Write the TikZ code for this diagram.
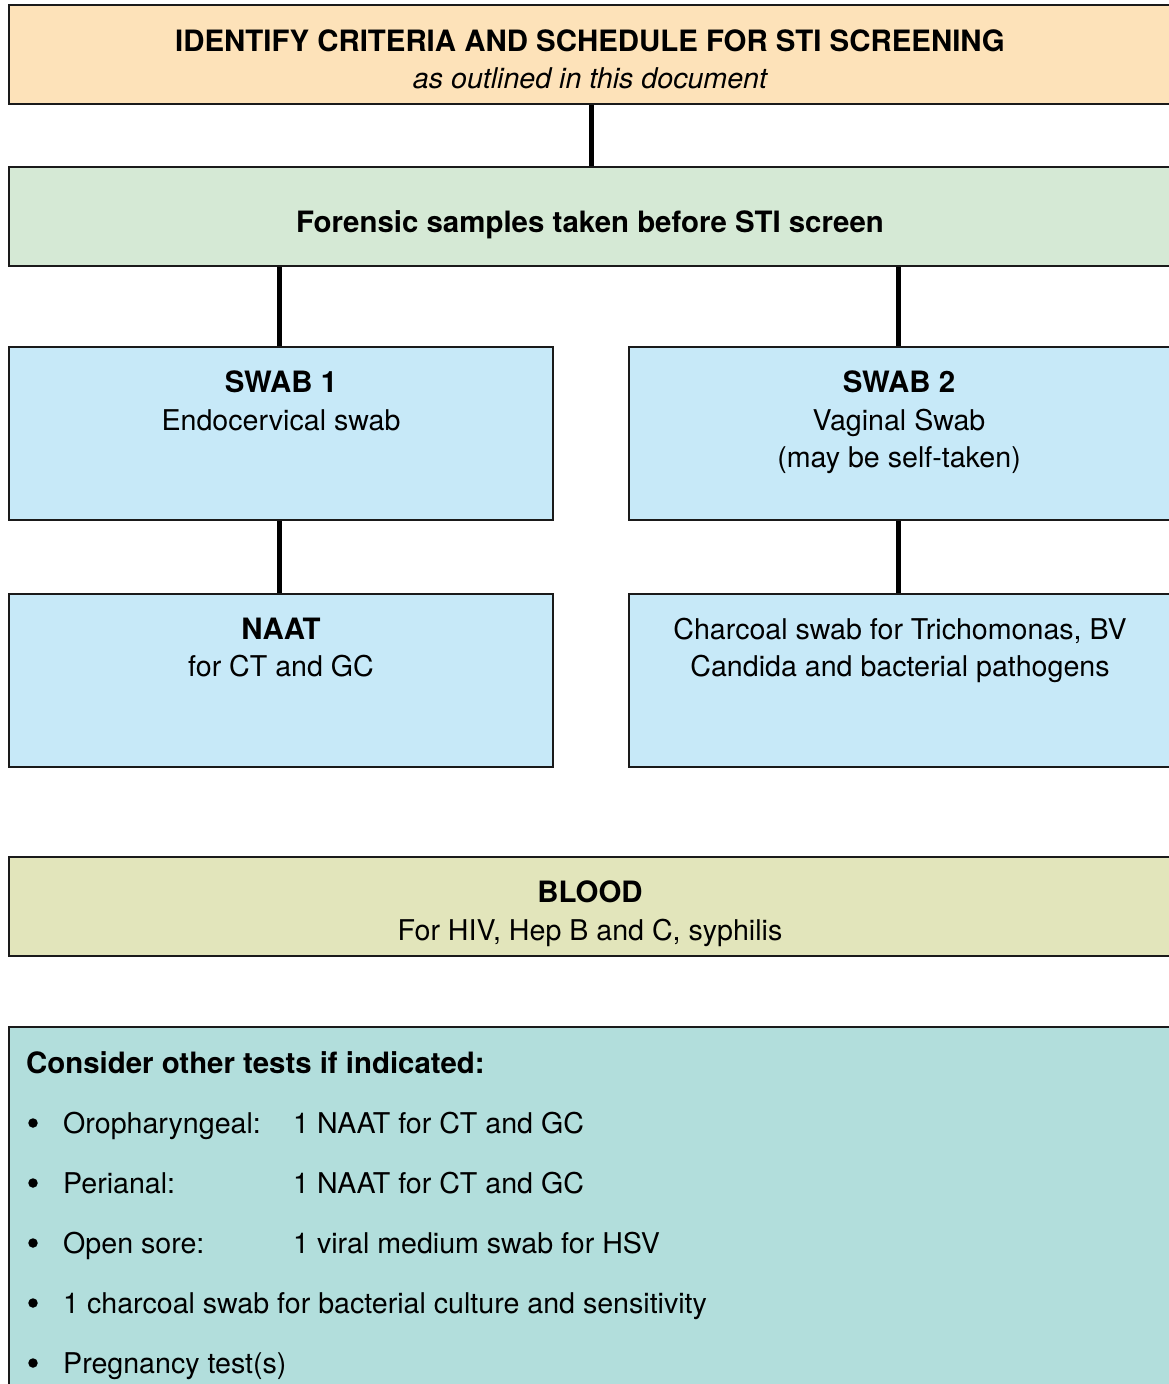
\documentclass[tikz,border=0pt]{standalone}
\usepackage{fontspec}
\setmainfont{TeX Gyre Heros}
\definecolor{critfill}{HTML}{FDE2B9}
\definecolor{forenfill}{HTML}{D5E9D5}
\definecolor{swabfill}{HTML}{C7E9F8}
\definecolor{bloodfill}{HTML}{E2E5BB}
\definecolor{otherfill}{HTML}{B2DEDC}
\definecolor{edge}{HTML}{1A1A1A}
\begin{document}
\begin{tikzpicture}[x=1pt,y=-1pt,
  box/.style={draw=edge,line width=2.6pt,rectangle,inner sep=0pt},
  conn/.style={draw=black,line width=5pt},
  txt/.style={inner sep=0pt,anchor=base,font=\fontsize{28.6}{34}\selectfont},
  btxt/.style={inner sep=0pt,anchor=base,font=\fontsize{29.4}{34}\selectfont\bfseries},
  ltxt/.style={txt,anchor=base west},
  lbtxt/.style={btxt,anchor=base west},
  dot/.style={circle,fill=black,inner sep=0pt,minimum size=9.5pt}]
\useasboundingbox (0,0) rectangle (1169,1384);
\clip (0,0) rectangle (1169,1384);
\fill[white] (0,0) rectangle (1169,1384);

% boxes
\node[box,fill=critfill,minimum width=1166pt,minimum height=99pt] (crit) at (592,54.5) {};
\node[box,fill=forenfill,minimum width=1166pt,minimum height=99pt] (foren) at (592,216.5) {};
\node[box,fill=swabfill,minimum width=544pt,minimum height=173pt] (swab1) at (281,433.5) {};
\node[box,fill=swabfill,minimum width=546pt,minimum height=173pt] (swab2) at (902,433.5) {};
\node[box,fill=swabfill,minimum width=544pt,minimum height=173pt] (naat) at (281,680.5) {};
\node[box,fill=swabfill,minimum width=546pt,minimum height=173pt] (charc) at (902,680.5) {};
\node[box,fill=bloodfill,minimum width=1166pt,minimum height=99pt] (blood) at (592,906.5) {};
\node[box,fill=otherfill,minimum width=1166pt,minimum height=393pt] (other) at (592,1223.5) {};

% connectors
\draw[conn] ([xshift=-1pt]crit.south) -- ([xshift=-1pt]crit.south |- foren.north);
\draw[conn] ([xshift=-2pt]swab1.north |- foren.south) -- ([xshift=-2pt]swab1.north);
\draw[conn] ([xshift=-4pt]swab2.north |- foren.south) -- ([xshift=-4pt]swab2.north);
\draw[conn] ([xshift=-2pt]swab1.south) -- ([xshift=-2pt]naat.north);
\draw[conn] ([xshift=-4pt]swab2.south) -- ([xshift=-4pt]charc.north);

% texts
\node[btxt] (critA) at (590,51) {IDENTIFY CRITERIA AND SCHEDULE FOR STI SCREENING};
\node[txt] (critB) at (590,88) {\itshape as outlined in this document};
\node[btxt] (forenA) at (590,232) {Forensic samples taken before STI screen};
\node[btxt] (swab1A) at (281,392) {SWAB 1};
\node[txt] (swab1B) at (281,430) {Endocervical swab};
\node[btxt] (swab2A) at (899,392) {SWAB 2};
\node[txt] (swab2B) at (899,430) {Vaginal Swab};
\node[txt] (swab2C) at (899,467) {(may be self-taken)};
\node[btxt] (naatA) at (281,639) {NAAT};
\node[txt] (naatB) at (281,676) {for CT and GC};
\node[txt] (charcA) at (900,639) {Charcoal swab for Trichomonas, BV};
\node[txt] (charcB) at (900,676) {Candida and bacterial pathogens};
\node[btxt] (bloodA) at (590,902) {BLOOD};
\node[txt] (bloodB) at (590,940) {For HIV, Hep B and C, syphilis};

\node[lbtxt] (otherA) at (26,1073) {Consider other tests if indicated:};
\node[dot] (b1) at (33,1123) {};
\node[ltxt] (r1a) at (63,1133) {Oropharyngeal:};
\node[ltxt] (r1b) at (293,1133) {1 NAAT for CT and GC};
\node[dot] (b2) at (33,1183) {};
\node[ltxt] (r2a) at (63,1193) {Perianal:};
\node[ltxt] (r2b) at (293,1193) {1 NAAT for CT and GC};
\node[dot] (b3) at (33,1243) {};
\node[ltxt] (r3a) at (63,1253) {Open sore:};
\node[ltxt] (r3b) at (293,1253) {1 viral medium swab for HSV};
\node[dot] (b4) at (33,1303) {};
\node[ltxt] (r4a) at (63,1313) {1 charcoal swab for bacterial culture and sensitivity};
\node[dot] (b5) at (33,1363) {};
\node[ltxt] (r5a) at (63,1373) {Pregnancy test(s)};
\end{tikzpicture}
\end{document}
